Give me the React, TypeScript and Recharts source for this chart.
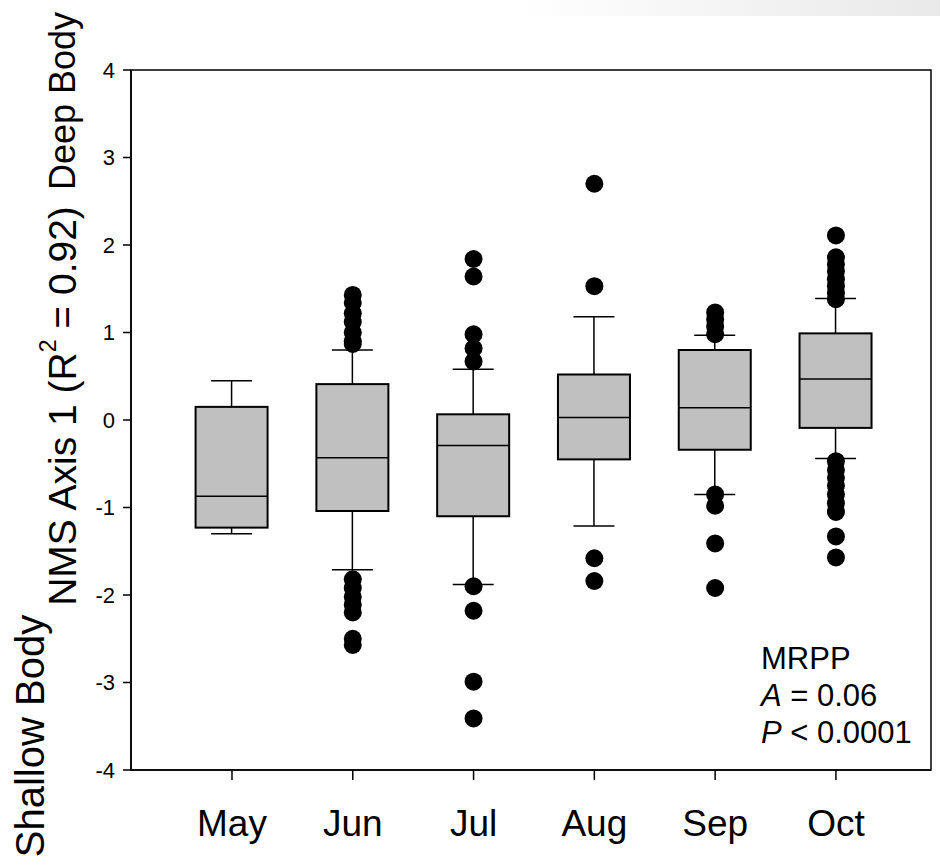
import React from 'react';
import { ComposedChart, Bar, Scatter, XAxis, YAxis, ReferenceArea, Customized } from 'recharts';

const months = ['May', 'Jun', 'Jul', 'Aug', 'Sep', 'Oct'];
const monthPos = [1, 2, 3, 4, 5, 6];
const whiskerLow = [-1.30, -1.71, -1.88, -1.21, -0.85, -0.44];
const quartile1 = [-1.23, -1.04, -1.10, -0.45, -0.34, -0.09];
const medians = [-0.87, -0.43, -0.29, 0.03, 0.14, 0.47];
const quartile3 = [0.15, 0.41, 0.065, 0.52, 0.80, 0.99];
const whiskerHigh = [0.45, 0.80, 0.58, 1.18, 0.97, 1.39];

const mayOutliers: number[] = [];
const junOutliers = [1.43, 1.34, 1.22, 1.12, 1.0, 0.9, 0.87, -1.82, -1.92, -2.02, -2.11, -2.2, -2.5, -2.57];
const julOutliers = [1.84, 1.64, 0.98, 0.82, 0.67, -1.9, -2.18, -2.99, -3.41];
const augOutliers = [2.7, 1.53, -1.58, -1.84];
const sepOutliers = [1.23, 1.15, 1.07, 0.98, -0.85, -0.98, -1.41, -1.92];
const octOutliers = [2.11, 1.86, 1.78, 1.7, 1.61, 1.53, 1.45, 1.38, -0.47, -0.57, -0.66, -0.75, -0.85, -0.95, -1.05, -1.33, -1.57];
const outlierSets = [mayOutliers, junOutliers, julOutliers, augOutliers, sepOutliers, octOutliers];

const yTicks = [-4, -3, -2, -1, 0, 1, 2, 3, 4];
const X_MIN = 0.164;
const X_MAX = 6.787;

const boxData = months.map((m, i) => ({
  x: monthPos[i],
  name: m,
  lo: whiskerLow[i],
  q1: quartile1[i],
  med: medians[i],
  q3: quartile3[i],
  hi: whiskerHigh[i],
}));

const outlierData = outlierSets.flatMap((arr, i) => arr.map((v) => ({ x: monthPos[i], y: v })));

const FONT = '"Liberation Sans", Arial, Helvetica, sans-serif';

const BoxShape = (props: any) => {
  const { x, y, width, height } = props;
  const d = props.payload ?? props;
  const top = Math.min(y, y + height);
  const h = Math.abs(height);
  const ppu = h / (d.hi - d.lo);
  const py = (v: number) => top + (d.hi - v) * ppu;
  const cx = x + width / 2;
  const cap = 20.5;
  return (
    <g>
      <line x1={cx} x2={cx} y1={py(d.hi)} y2={py(d.q3)} stroke="#000" strokeWidth={1.5} />
      <line x1={cx} x2={cx} y1={py(d.q1)} y2={py(d.lo)} stroke="#000" strokeWidth={1.5} />
      <line x1={cx - cap} x2={cx + cap} y1={py(d.hi)} y2={py(d.hi)} stroke="#000" strokeWidth={1.5} />
      <line x1={cx - cap} x2={cx + cap} y1={py(d.lo)} y2={py(d.lo)} stroke="#000" strokeWidth={1.5} />
      <rect x={x} y={py(d.q3)} width={width} height={py(d.q1) - py(d.q3)} fill="#c0c0c0" stroke="#000" strokeWidth={2} />
      <line x1={x} x2={x + width} y1={py(d.med)} y2={py(d.med)} stroke="#000" strokeWidth={1.5} />
    </g>
  );
};

const Dot = (p: any) => <circle cx={p.cx} cy={p.cy} r={9} fill="#000" />;

const Annotations = () => (
  <g fontFamily={FONT} fill="#000">
    <defs>
      <linearGradient id="bandGrad" x1="0" x2="1" y1="0" y2="0">
        <stop offset="0" stopColor="#ffffff" />
        <stop offset="1" stopColor="#e9e9e9" />
      </linearGradient>
    </defs>
    <rect x={520} y={0} width={420} height={16} fill="url(#bandGrad)" />
    <text x={761} y={669} fontSize={31}>MRPP</text>
    <text x={761} y={706} fontSize={31}><tspan fontStyle="italic">A</tspan> = 0.06</text>
    <text x={761} y={743} fontSize={31}><tspan fontStyle="italic">P</tspan> &lt; 0.0001</text>
    <text transform="translate(30,736) rotate(-90)" textAnchor="middle" dominantBaseline="central" fontSize={40}>Shallow Body</text>
    <text transform="translate(62,406) rotate(-90)" textAnchor="middle" dominantBaseline="central" fontSize={39}>
      NMS Axis 1 (R<tspan dy={-14} fontSize={23}>2</tspan><tspan dy={14}> = 0.92)</tspan>
    </text>
    <text transform="translate(62,101) rotate(-90)" textAnchor="middle" dominantBaseline="central" fontSize={36}>Deep Body</text>
  </g>
);

export default function App() {
  return (
    <div style={{ position: 'absolute', left: 0, top: 0, width: 940, height: 863, background: '#fff' }}>
      <ComposedChart
        width={940}
        height={863}
        data={boxData}
        margin={{ top: 70, right: 9, bottom: 0, left: 0 }}
      >
        <XAxis
          dataKey="x"
          type="number"
          domain={[X_MIN, X_MAX]}
          ticks={monthPos}
          allowDataOverflow
          tickFormatter={(v: number) => months[v - 1] ?? ''}
          height={93}
          tickSize={10}
          tickMargin={30}
          stroke="#000"
          strokeWidth={1.5}
          tick={{ fill: '#000', fontSize: 37, fontFamily: FONT }}
          interval={0}
        />
        <YAxis
          type="number"
          domain={[-4, 4]}
          ticks={yTicks}
          allowDataOverflow
          width={131}
          tickSize={8}
          tickMargin={8}
          stroke="#000"
          strokeWidth={1.5}
          tick={{ fill: '#000', fontSize: 22, fontFamily: FONT }}
          interval={0}
        />
        <ReferenceArea x1={X_MIN} x2={X_MAX} y1={-4} y2={4} fill="none" stroke="#000" strokeWidth={1.5} ifOverflow="visible" />
        <Bar
          dataKey={(d: any) => [d.lo, d.hi]}
          barSize={72}
          shape={BoxShape}
          isAnimationActive={false}
        />
        <Scatter data={outlierData} dataKey="y" shape={Dot} isAnimationActive={false} />
        <Customized component={Annotations} />
      </ComposedChart>
    </div>
  );
}
